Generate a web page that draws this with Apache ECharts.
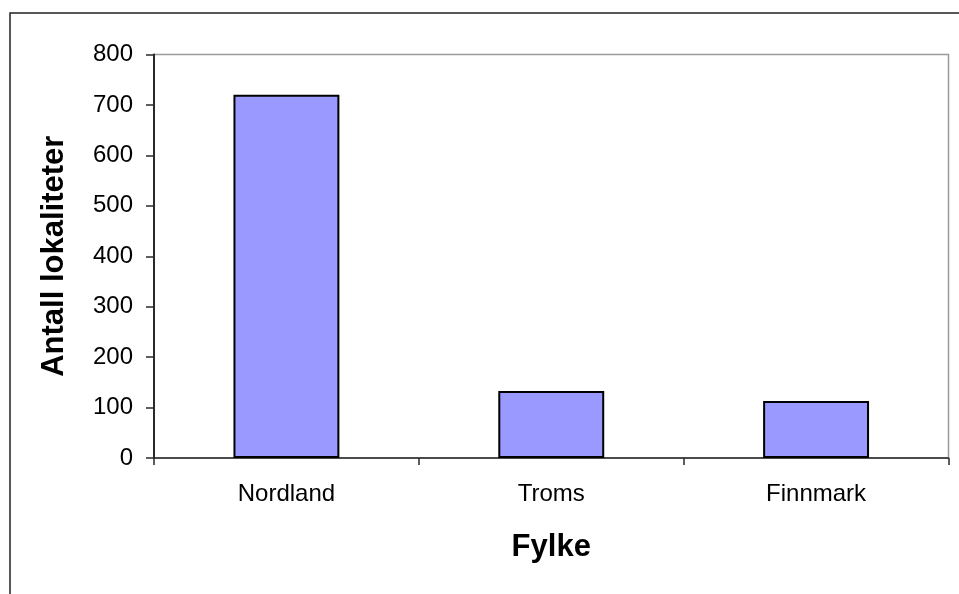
<!DOCTYPE html>
<html>
<head>
<meta charset="utf-8">
<script src="https://cdn.jsdelivr.net/npm/echarts@6/dist/echarts.min.js"></script>
<style>
html,body{margin:0;padding:0;background:#fff;}
#chart{width:959px;height:594px;}
</style>
</head>
<body>
<div id="chart"></div>
<script>
const categories = ['Nordland', 'Troms', 'Finnmark'];
const values = [720, 133, 113];
const yTicks = [0, 100, 200, 300, 400, 500, 600, 700, 800];
const xTitle = 'Fylke';
const yTitle = 'Antall lokaliteter';

const FONT = "'Liberation Sans', Arial, sans-serif";
const chart = echarts.init(document.getElementById('chart'), null, {renderer: 'canvas'});
chart.setOption({
  animation: false,
  backgroundColor: '#ffffff',
  graphic: [{
    type: 'rect',
    shape: {x: 10, y: 13, width: 1200, height: 1000},
    style: {fill: 'none', stroke: '#222', lineWidth: 1.5},
    silent: true, z: -10
  }],
  grid: {
    left: 154, right: 10.5, top: 54.5, bottom: 136,
    show: true, borderColor: '#9a9a9a', borderWidth: 1.5, backgroundColor: 'transparent'
  },
  xAxis: {
    type: 'category',
    data: categories,
    name: xTitle,
    nameLocation: 'middle',
    nameGap: 74,
    nameTextStyle: {fontFamily: FONT, fontSize: 31, fontWeight: 'bold', color: '#000'},
    axisLine: {lineStyle: {color: '#2a2a2a', width: 1.5}},
    axisTick: {show: true, length: 7, lineStyle: {color: '#2a2a2a', width: 1.5}},
    axisLabel: {fontFamily: FONT, fontSize: 24, color: '#000', margin: 24},
    splitLine: {show: false}
  },
  yAxis: {
    type: 'value',
    min: yTicks[0],
    max: yTicks[yTicks.length - 1],
    interval: yTicks[1] - yTicks[0],
    name: yTitle,
    nameLocation: 'middle',
    nameGap: 84,
    nameTextStyle: {fontFamily: FONT, fontSize: 31, fontWeight: 'bold', color: '#000'},
    axisLine: {show: true, lineStyle: {color: '#2a2a2a', width: 2}},
    axisTick: {show: true, length: 8, lineStyle: {color: '#2a2a2a', width: 1.5}},
    axisLabel: {fontFamily: FONT, fontSize: 24, color: '#000', margin: 21},
    splitLine: {show: false}
  },
  series: [{
    type: 'bar',
    data: values,
    barWidth: '40%',
    itemStyle: {color: '#9999FF', borderColor: '#000', borderWidth: 2}
  }]
});
</script>
</body>
</html>
